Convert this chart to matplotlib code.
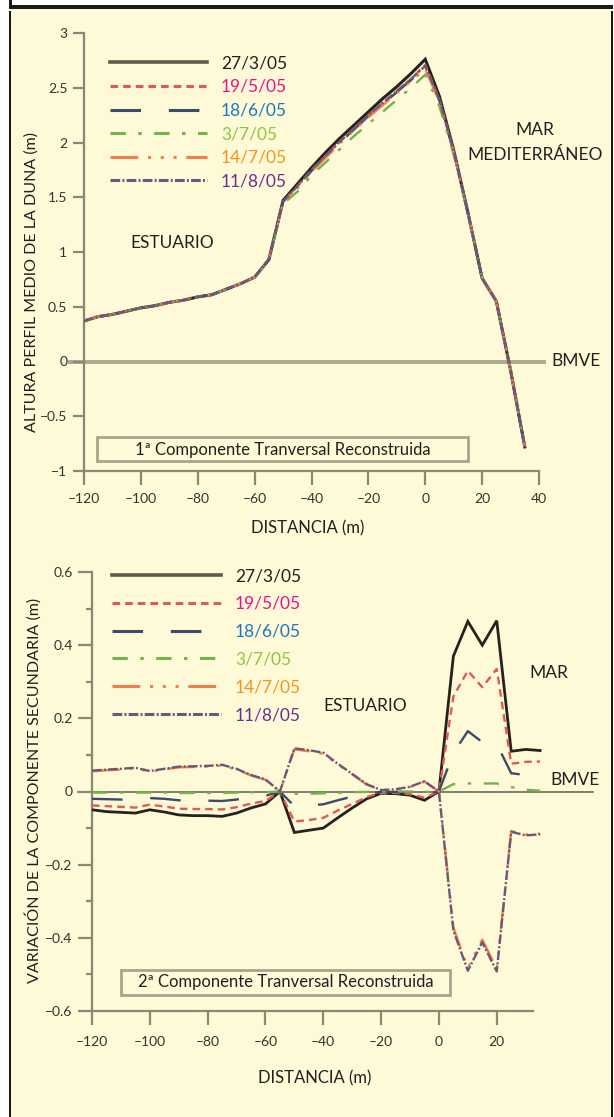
import matplotlib
matplotlib.use("Agg")
import matplotlib.pyplot as plt
from matplotlib.patches import Rectangle
from matplotlib.ticker import MultipleLocator
import numpy as np

plt.rcParams['font.family'] = ['Lato', 'DejaVu Sans']
plt.rcParams['lines.scale_dashes'] = False

# ---------------- data ----------------
distancia = [-120, -115, -110, -105, -100, -95, -90, -85, -80, -75, -70, -65, -60, -55, -50, -45,
             -40, -35, -30, -25, -20, -15, -10, -5, 0, 5, 10, 15, 20, 25, 30, 35]

fechas = ["27/3/05", "19/5/05", "18/6/05", "3/7/05", "14/7/05", "11/8/05"]

# 1st component (ALTURA PERFIL MEDIO DE LA DUNA, m)
alt_27_3 = [0.37, 0.41, 0.43, 0.46, 0.49, 0.51, 0.54, 0.56, 0.59, 0.61, 0.66, 0.71, 0.77, 0.93, 1.47, 1.62,
            1.77, 1.91, 2.04, 2.16, 2.28, 2.40, 2.51, 2.63, 2.76, 2.42, 1.93, 1.36, 0.76, 0.55, -0.08, -0.78]
alt_19_5 = [0.37, 0.41, 0.43, 0.46, 0.49, 0.51, 0.54, 0.56, 0.59, 0.61, 0.66, 0.71, 0.77, 0.93, 1.46, 1.60,
            1.75, 1.88, 2.01, 2.13, 2.25, 2.36, 2.47, 2.58, 2.71, 2.39, 1.92, 1.36, 0.76, 0.55, -0.08, -0.78]
alt_18_6 = [0.37, 0.41, 0.43, 0.46, 0.49, 0.51, 0.54, 0.56, 0.59, 0.61, 0.66, 0.71, 0.77, 0.93, 1.46, 1.59,
            1.74, 1.87, 2.00, 2.12, 2.24, 2.35, 2.46, 2.57, 2.69, 2.38, 1.91, 1.36, 0.76, 0.55, -0.08, -0.78]
alt_3_7 = [0.37, 0.41, 0.43, 0.46, 0.49, 0.51, 0.54, 0.56, 0.59, 0.61, 0.66, 0.71, 0.77, 0.92, 1.44, 1.55,
           1.70, 1.82, 1.94, 2.06, 2.17, 2.28, 2.39, 2.50, 2.62, 2.33, 1.89, 1.35, 0.76, 0.55, -0.08, -0.78]
alt_14_7 = [0.37, 0.41, 0.43, 0.46, 0.49, 0.51, 0.54, 0.56, 0.59, 0.61, 0.66, 0.71, 0.77, 0.93, 1.45, 1.58,
            1.73, 1.86, 1.99, 2.11, 2.23, 2.34, 2.45, 2.56, 2.67, 2.37, 1.91, 1.36, 0.76, 0.55, -0.08, -0.78]
alt_11_8 = [0.37, 0.41, 0.43, 0.46, 0.49, 0.51, 0.54, 0.56, 0.59, 0.61, 0.66, 0.71, 0.77, 0.93, 1.46, 1.60,
            1.75, 1.88, 2.01, 2.13, 2.25, 2.36, 2.47, 2.58, 2.70, 2.39, 1.92, 1.36, 0.76, 0.55, -0.08, -0.78]

# 2nd component (VARIACION DE LA COMPONENTE SECUNDARIA, m)
var_27_3 = [-0.050, -0.055, -0.057, -0.059, -0.050, -0.056, -0.064, -0.066, -0.066, -0.068, -0.059, -0.045,
            -0.034, 0.000, -0.112, -0.106, -0.100, -0.072, -0.045, -0.020, -0.005, -0.006, -0.010, -0.024,
            0.000, 0.370, 0.465, 0.400, 0.467, 0.110, 0.115, 0.112]
var_19_5 = [-0.038, -0.040, -0.042, -0.044, -0.036, -0.041, -0.047, -0.048, -0.048, -0.049, -0.043, -0.033,
            -0.026, 0.000, -0.082, -0.078, -0.072, -0.052, -0.034, -0.015, -0.004, -0.004, -0.007, -0.017,
            0.000, 0.260, 0.330, 0.285, 0.335, 0.076, 0.081, 0.082]
var_18_6 = [-0.020, -0.021, -0.022, -0.023, -0.018, -0.020, -0.024, -0.025, -0.025, -0.026, -0.022, -0.016,
            -0.012, 0.000, -0.040, -0.038, -0.035, -0.024, -0.014, -0.006, -0.001, -0.001, -0.002, -0.006,
            0.000, 0.105, 0.165, 0.135, 0.130, 0.050, 0.045, 0.040]
var_3_7 = [-0.003, -0.003, -0.003, -0.003, -0.003, -0.003, -0.004, -0.004, -0.004, -0.004, -0.003, -0.002,
           -0.002, 0.000, -0.006, -0.006, -0.005, -0.004, -0.002, -0.001, 0.000, 0.000, 0.000, -0.001,
           0.000, 0.020, 0.022, 0.022, 0.022, 0.012, 0.005, 0.002]
var_14_7 = [0.055, 0.058, 0.060, 0.063, 0.054, 0.060, 0.066, 0.067, 0.068, 0.071, 0.060, 0.044,
            0.032, 0.000, 0.115, 0.110, 0.103, 0.074, 0.047, 0.019, 0.004, 0.006, 0.012, 0.027,
            0.000, -0.372, -0.482, -0.405, -0.484, -0.108, -0.118, -0.115]
var_11_8 = [0.057, 0.060, 0.062, 0.065, 0.056, 0.062, 0.068, 0.069, 0.070, 0.073, 0.062, 0.045,
            0.033, 0.000, 0.118, 0.113, 0.106, 0.076, 0.048, 0.020, 0.004, 0.006, 0.013, 0.028,
            0.000, -0.380, -0.490, -0.412, -0.492, -0.110, -0.120, -0.117]

top_series = [alt_27_3, alt_19_5, alt_18_6, alt_3_7, alt_14_7, alt_11_8]
bot_series = [var_27_3, var_19_5, var_18_6, var_3_7, var_14_7, var_11_8]

ticks_top_x = [-120, -100, -80, -60, -40, -20, 0, 20, 40]
ticks_top_y = [-1, -0.5, 0, 0.5, 1, 1.5, 2, 2.5, 3]
ticklabels_top_y = ["\u22121", "\u22120.5", "0", "0.5", "1", "1.5", "2", "2.5", "3"]
ticks_bot_x = [-120, -100, -80, -60, -40, -20, 0, 20]
ticks_bot_y = [-0.6, -0.4, -0.2, 0, 0.2, 0.4, 0.6]
ticklabels_bot_y = ["\u22120.6", "\u22120.4", "\u22120.2", "0", "0.2", "0.4", "0.6"]

# ---------------- styles ----------------
line_colors = ['#24231d', '#e05a55', '#3d4a68', '#72b34c', '#ef7f4c', '#6b5878']
text_colors = ['#231f20', '#ec118c', '#1a78c2', '#8dc63f', '#f7941d', '#6a2f93']
dashes = [None, (5.5, 3.6), (22, 20), (11, 9, 2.5, 9), (20, 7, 2.2, 7, 2.2, 7, 2.2, 7), (7, 1.6, 1.4, 1.6)]
legend_colors = ['#5e5b4c', '#e05a55', '#3d4a68', '#72b34c', '#ef7f4c', '#6b5878']

BG = '#fef9d7'
SPINE = '#8a8874'
W, H = 614, 1117

fig = plt.figure(figsize=(W / 100, H / 100), dpi=100, facecolor='white')


def fx(x):
    return x / W


def fy(y):
    return 1 - y / H


# background & frame
fig.add_artist(Rectangle((fx(10), 0), fx(612) - fx(10), fy(8), transform=fig.transFigure,
                         facecolor=BG, edgecolor='none', zorder=-10))
fig.add_artist(Rectangle((fx(9), fy(9)), fx(3), fy(0) - fy(9) + 0.01, transform=fig.transFigure,
                         facecolor='#1a1a1a', edgecolor='none', zorder=-5))
fig.add_artist(Rectangle((fx(9), -0.01), fx(2), 1.0, transform=fig.transFigure,
                         facecolor='#1a1a1a', edgecolor='none', zorder=-5))
fig.add_artist(Rectangle((fx(611), -0.01), fx(2), 1.0, transform=fig.transFigure,
                         facecolor='#1a1a1a', edgecolor='none', zorder=-5))
fig.add_artist(Rectangle((fx(9), fy(9)), fx(613) - fx(9), fy(5) - fy(9), transform=fig.transFigure,
                         facecolor='#1a1a1a', edgecolor='none', zorder=-5))


def style_axes(ax):
    ax.set_facecolor('none')
    for s in ['top', 'right']:
        ax.spines[s].set_visible(False)
    for s in ['left', 'bottom']:
        ax.spines[s].set_color(SPINE)
        ax.spines[s].set_linewidth(1.6)
    ax.tick_params(colors=SPINE, labelcolor='#333333', labelsize=10, width=1.6)


# ---------------- top panel ----------------
ax1 = fig.add_axes([fx(84), fy(471), fx(539) - fx(84), fy(33) - fy(471)])
style_axes(ax1)
ax1.set_xlim(-120, 40)
ax1.set_ylim(-1, 3)
ax1.axhline(0, xmin=-0.03, xmax=1.01, color='#aaa890', lw=2.8, zorder=1, clip_on=False)

for i, (vals, lab) in enumerate(zip(top_series, fechas)):
    lw = 2.2 if i == 0 else 1.7
    ln, = ax1.plot(distancia, vals, color=line_colors[i], lw=lw, zorder=3 + i, solid_joinstyle='miter')
    if dashes[i] is not None:
        ln.set_dashes(dashes[i])
ax1.set_xticks(ticks_top_x)
ax1.set_yticks(ticks_top_y)
ax1.set_yticklabels(ticklabels_top_y)
ax1.set_xticklabels([str(t).replace('-', '\u2013') for t in ticks_top_x])
ax1.tick_params(axis='y', direction='out', length=8, pad=4)
ax1.tick_params(axis='x', direction='out', length=10, pad=6)


def make_legend(ax, anchor, hl, spacing):
    hs = []
    for i in range(6):
        h, = ax.plot([], [], color=legend_colors[i], lw=2.6 if i == 0 else 2.2)
        if dashes[i] is not None:
            h.set_dashes(dashes[i])
        hs.append(h)
    leg = ax.legend(hs, fechas, loc='upper left', bbox_to_anchor=anchor, frameon=False,
                    handlelength=hl, handletextpad=0.8, labelspacing=spacing, borderaxespad=0,
                    borderpad=0, fontsize=12.5, labelcolor=text_colors)
    return leg


make_legend(ax1, (0.057, 0.949), 5.6, 0.44)

ax1.text(-89, 1.08, "ESTUARIO", fontsize=12.5, ha='center', va='center', color='#231f20')
ax1.text(38.5, 2.11, "MAR", fontsize=12.5, ha='center', va='center', color='#231f20', clip_on=False)
ax1.text(38.5, 1.89, "MEDITERR\u00c1NEO", fontsize=12.5, ha='center', va='center', color='#231f20',
         clip_on=False)
ax1.text(44.5, 0, "BMVE", fontsize=12.5, ha='left', va='center', color='#231f20', clip_on=False)

fig.add_artist(Rectangle((fx(97), fy(461)), fx(468) - fx(97), fy(437) - fy(461), transform=fig.transFigure,
                         facecolor=BG, edgecolor='#a7a58f', lw=2.0, zorder=5))
fig.text(fx(283), fy(450), "1\u00aa Componente Tranversal Reconstruida", fontsize=12, ha='center',
         va='center', color='#231f20', zorder=6)

fig.text(fx(32), fy(282), "ALTURA PERFIL MEDIO DE LA DUNA (m)", rotation=90, fontsize=11.5,
         ha='center', va='center', color='#231f20')
fig.text(fx(308), fy(528), "DISTANCIA (m)", fontsize=12, ha='center', va='center', color='#231f20')

# ---------------- bottom panel ----------------
ax2 = fig.add_axes([fx(92), fy(1011), fx(543) - fx(92), fy(572) - fy(1011)])
style_axes(ax2)
ax2.set_xlim(-120, 36)
ax2.set_ylim(-0.6, 0.6)
ax2.spines['bottom'].set_bounds(-120, 32.5)
ax2.axhline(0, xmin=-0.03, xmax=1.11, color='#5d5d4c', lw=1.1, zorder=1, clip_on=False)

for i, vals in enumerate(bot_series):
    lw = 2.0 if i == 0 else 1.7
    ln, = ax2.plot(distancia, vals, color=line_colors[i], lw=lw, zorder=3 + i, solid_joinstyle='miter')
    if dashes[i] is not None:
        ln.set_dashes(dashes[i])
ax2.set_xticks(ticks_bot_x)
ax2.set_yticks(ticks_bot_y)
ax2.set_yticklabels(ticklabels_bot_y)
ax2.set_xticklabels([str(t).replace('-', '\u2013') for t in ticks_bot_x])
ax2.yaxis.set_minor_locator(MultipleLocator(0.1))
ax2.tick_params(axis='y', which='major', direction='out', length=10, pad=4)
ax2.tick_params(axis='y', which='minor', direction='out', length=4, width=1.6, colors=SPINE)
ax2.tick_params(axis='x', direction='out', length=10, pad=8)

make_legend(ax2, (0.044, 1.009), 6.3, 0.68)

ax2.text(-25.5, 0.235, "ESTUARIO", fontsize=12.5, ha='center', va='center', color='#231f20')
ax2.text(38, 0.323, "MAR", fontsize=12.5, ha='center', va='center', color='#231f20', clip_on=False)
ax2.text(38.5, 0.032, "BMVE", fontsize=12.5, ha='left', va='center', color='#231f20', clip_on=False)

fig.add_artist(Rectangle((fx(121), fy(995)), fx(450) - fx(121), fy(970) - fy(995), transform=fig.transFigure,
                         facecolor=BG, edgecolor='#a7a58f', lw=2.0, zorder=5))
fig.text(fx(285.5), fy(982), "2\u00aa Componente Tranversal Reconstruida", fontsize=12, ha='center',
         va='center', color='#231f20', zorder=6)

fig.text(fx(33), fy(790), "VARIACI\u00d3N DE LA COMPONENTE SECUNDARIA (m)", rotation=90, fontsize=11.5,
         ha='center', va='center', color='#231f20')
fig.text(fx(315), fy(1078), "DISTANCIA (m)", fontsize=12, ha='center', va='center', color='#231f20')

fig.savefig("out.png", dpi=100, facecolor='white')
